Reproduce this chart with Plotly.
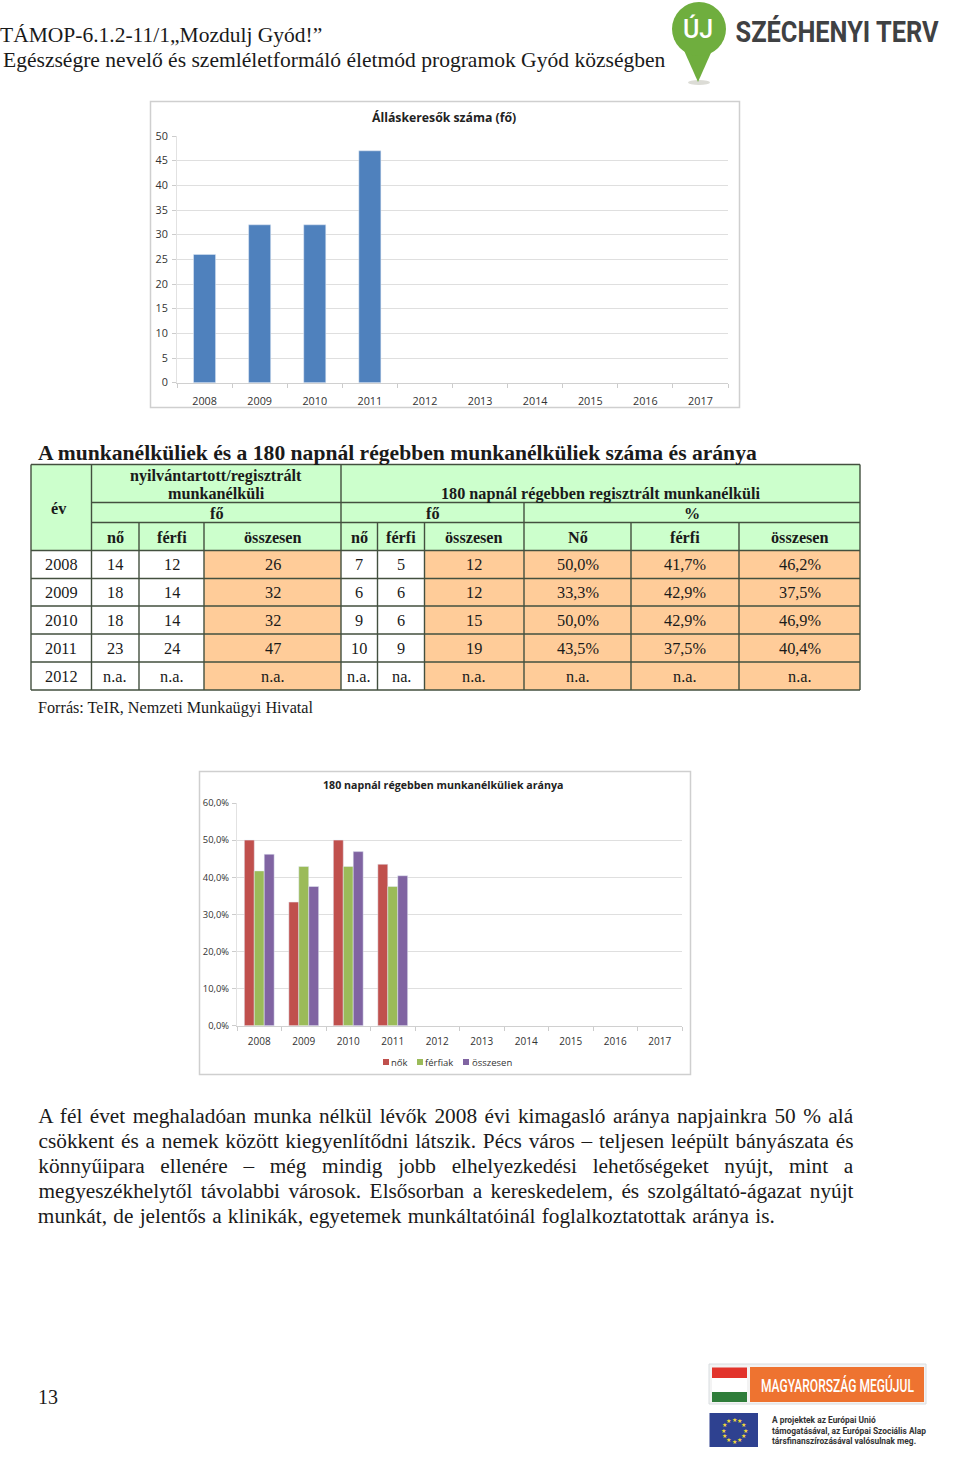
import json
import math
import plotly.graph_objects as go

W, H = 960, 1458
years = ["2008","2009","2010","2011","2012","2013","2014","2015","2016","2017"]
jobseekers = [26, 32, 32, 47, None, None, None, None, None, None]
women_pct = [50.0, 33.3, 50.0, 43.5, None, None, None, None, None, None]
men_pct = [41.7, 42.9, 42.9, 37.5, None, None, None, None, None, None]
total_pct = [46.2, 37.5, 46.9, 40.4, None, None, None, None, None, None]

table_rows = [
    ["2008","14","12","26","7","5","12","50,0%","41,7%","46,2%"],
    ["2009","18","14","32","6","6","12","33,3%","42,9%","37,5%"],
    ["2010","18","14","32","9","6","15","50,0%","42,9%","46,9%"],
    ["2011","23","24","47","10","9","19","43,5%","37,5%","40,4%"],
    ["2012","n.a.","n.a.","n.a.","n.a.","na.","n.a.","n.a.","n.a.","n.a."],
]
sub_headers = ["nő","férfi","összesen","nő","férfi","összesen","Nő","férfi","összesen"]
col_edges = [31, 91.5, 139, 204, 341, 377.5, 424.5, 524, 631, 739, 860]
row_edges = [550.5, 578.5, 606, 634, 662, 690]
orange_cols = {3, 6, 7, 8, 9}

paragraph = [
    "A fél évet meghaladóan munka nélkül lévők 2008 évi kimagasló aránya napjainkra 50 % alá",
    "csökkent és a nemek között kiegyenlítődni látszik. Pécs város – teljesen leépült bányászata és",
    "könnyűipara ellenére – még mindig jobb elhelyezkedési lehetőségeket nyújt, mint a",
    "megyeszékhelytől távolabbi városok. Elsősorban a kereskedelem, és szolgáltató-ágazat nyújt",
    "munkát, de jelentős a klinikák, egyetemek munkáltatóinál foglalkoztatottak aránya is.",
]
paragraph_widths = [815, 815, 815, 815, 737]
squeezed_texts = {"SZÉCHENYI TERV": 203, "MAGYARORSZÁG MEGÚJUL": 153}

SERIF = "Liberation Serif"
SANS = "Open Sans"
GREEN, ORANGE, BORDER = "#CCFFCC", "#FFCC99", "#43503f"
INK = "#1a1a1a"

def xp(x): return x / W
def yp(y): return 1 - y / H

annots, shapes = [], []

def txt(x, y, s, size, font=SERIF, bold=False, color=INK, anchor="center", weight=None):
    f = dict(family=font, size=size, color=color)
    if weight:
        f["weight"] = weight
    annots.append(dict(
        xref="paper", yref="paper", x=xp(x), y=yp(y), text=f"<b>{s}</b>" if bold else s,
        showarrow=False, xanchor=anchor, yanchor="middle", font=f, borderpad=0, borderwidth=0,
    ))

def rect(x0, y0, x1, y1, fill="rgba(0,0,0,0)", line=None, lw=1, kind="rect", layer="above"):
    shapes.append(dict(
        type=kind, xref="paper", yref="paper", x0=xp(x0), x1=xp(x1), y0=yp(y1), y1=yp(y0),
        fillcolor=fill, line=dict(color=line or "rgba(0,0,0,0)", width=lw if line else 0), layer=layer,
    ))

# header
txt(0, 35, "TÁMOP-6.1.2-11/1„Mozdulj Gyód!”", 21.5, anchor="left")
txt(3, 60, "Egészségre nevelő és szemléletformáló életmód programok Gyód községben", 21.55, anchor="left")

# Széchenyi logo
shapes.append(dict(type="path", xref="paper", yref="paper",
    path=f"M {xp(682)} {yp(46)} L {xp(698)} {yp(82)} L {xp(714)} {yp(46)} Z",
    fillcolor="#6fae3e", line=dict(width=0)))
rect(672, 2, 726, 56, fill="#6fae3e", kind="circle")
rect(688, 80, 710, 85, fill="#dcdcd6", kind="circle", layer="below")
txt(698, 29, "ÚJ", 25, font="Roboto", color="#ffffff", weight=500)
txt(836.5, 32, "SZÉCHENYI TERV", 29, font="Roboto", color="#3f4143", weight=700)

# chart frames
rect(150.5, 101.5, 739.5, 407.5, line="#cfcfcf", lw=1.5, layer="below")
rect(199.5, 771.5, 690.5, 1074.5, line="#cfcfcf", lw=1.5, layer="below")
txt(444, 117, "Álláskeresők száma (fő)", 12.25, font=SANS, bold=True, color="#222222")
txt(443, 785, "180 napnál régebben munkanélküliek aránya", 10.65, font=SANS, bold=True, color="#222222")

# legend of chart 2
for sx, tx, label, colour in [(383, 391, "nők", "#C0504D"), (417, 425, "férfiak", "#9BBB59"), (463, 472, "összesen", "#8064A2")]:
    rect(sx, 1059, sx + 6, 1065, fill=colour)
    txt(tx, 1062, label, 9.5, font=SANS, color="#333333", anchor="left")

# table
txt(38, 453, "A munkanélküliek és a 180 napnál régebben munkanélküliek száma és aránya", 21.6, bold=True, anchor="left")
L, R = col_edges[0], col_edges[-1]
rect(L, 464.5, R, 550.5, fill=GREEN)
for r, (y0, y1) in enumerate(zip(row_edges[:-1], row_edges[1:])):
    for c, (x0, x1) in enumerate(zip(col_edges[:-1], col_edges[1:])):
        rect(x0, y0, x1, y1, fill=ORANGE if c in orange_cols else "#ffffff")
        txt((x0 + x1) / 2, (y0 + y1) / 2, table_rows[r][c], 16.3)
for x in col_edges:
    top = 464.5 if x in (31, 91.5, 341, 860) else (502.5 if x in (524,) else 522.5)
    rect(x, top, x, 690, line=BORDER, lw=1.4)
for y in [464.5, 550.5] + row_edges[1:]:
    rect(L, y, R, y, line=BORDER, lw=1.4)
for y in (502.5, 522.5):
    rect(91.5, y, R, y, line=BORDER, lw=1.4)
HS = 16.2
txt(59, 509, "év", HS, bold=True)
txt(216, 476, "nyilvántartott/regisztrált", HS, bold=True)
txt(216, 494, "munkanélküli", HS, bold=True)
txt(600, 494, "180 napnál régebben regisztrált munkanélküli", HS, bold=True)
txt(216, 514, "fő", HS, bold=True)
txt(432, 514, "fő", HS, bold=True)
txt(692, 514, "%", HS, bold=True)
for i, s in enumerate(sub_headers):
    txt((col_edges[i + 1] + col_edges[i + 2]) / 2, 537.5, s, HS, bold=True)
txt(38, 708, "Forrás: TeIR, Nemzeti Munkaügyi Hivatal", 16.2, anchor="left")

# paragraph (centred; the post script widens word gaps to justify)
for i, line in enumerate(paragraph):
    txt(38 + paragraph_widths[i] / 2, 1116 + 25 * i, line, 21.3)

txt(38, 1397, "13", 20, anchor="left")

# bottom logos
rect(709, 1364, 926, 1404, fill="#f3f3f3", line="#d8dde0", lw=1)
rect(712, 1367.5, 747, 1378, fill="#e2332b")
rect(712, 1378, 747, 1392, fill="#ffffff")
rect(712, 1392, 747, 1402, fill="#2f7d3a")
rect(750, 1367, 924, 1402, fill="#ee7330")
txt(837.5, 1385, "MAGYARORSZÁG MEGÚJUL", 18, font="Roboto", color="#ffffff", weight=500)
rect(709.5, 1413, 758, 1447, fill="#2e4190")
for k in range(12):
    a = math.radians(30 * k)
    txt(734 + 11 * math.cos(a), 1430 + 11 * math.sin(a), "★", 6, font="DejaVu Sans", color="#f3d93a")
txt(772, 1420, "A projektek az Európai Unió", 8.4, font="Roboto", bold=True, color="#333333", anchor="left")
txt(772, 1430.5, "támogatásával, az Európai Szociális Alap", 8.4, font="Roboto", bold=True, color="#333333", anchor="left")
txt(772, 1441, "társfinanszírozásával valósulnak meg.", 8.4, font="Roboto", bold=True, color="#333333", anchor="left")

fig = go.Figure()
fig.add_bar(x=years, y=jobseekers, name="Álláskeresők", marker_color="#4F81BD", width=0.4, xaxis="x", yaxis="y", showlegend=False)
for name, vals, colour in [("nők", women_pct, "#C0504D"), ("férfiak", men_pct, "#9BBB59"), ("összesen", total_pct, "#8064A2")]:
    fig.add_bar(x=years, y=vals, name=name, marker_color=colour, xaxis="x2", yaxis="y2", showlegend=False)

def tick(size): return dict(family=SANS, size=size, color="#333333")
def xaxis(d0, d1, anchor, size, standoff):
    return dict(domain=[xp(d0), xp(d1)], type="category", anchor=anchor, tickson="boundaries",
                ticks="outside", ticklen=4, tickcolor="#cccccc", showline=True, linecolor="#d0d0d0",
                linewidth=1, showgrid=False, tickfont=tick(size), ticklabelstandoff=standoff, fixedrange=True)
def yaxis(top, bot, anchor, size, standoff, **kw):
    return dict(domain=[yp(bot), yp(top)], anchor=anchor, ticks="outside", ticklen=4, tickcolor="#cccccc",
                showline=True, linecolor="#e2e2e2", linewidth=1, showgrid=True, gridcolor="#dfdfdf",
                gridwidth=1.2, zeroline=False, tickfont=tick(size), ticklabelstandoff=standoff, fixedrange=True, **kw)

fig.update_layout(
    width=W, height=H, margin=dict(l=0, r=0, t=0, b=0, pad=0, autoexpand=False), autosize=False,
    paper_bgcolor="#ffffff", plot_bgcolor="#ffffff", barmode="group", bargap=0.33, bargroupgap=0,
    showlegend=False, shapes=shapes, annotations=annots,
    xaxis=xaxis(177, 728, "y", 10.8, 8),
    yaxis=yaxis(136, 382.7, "x", 10.8, 2, range=[0, 50], dtick=5),
    xaxis2=xaxis(237, 682, "y2", 10, 6),
    yaxis2=yaxis(803, 1025.7, "x2", 9.4, 1, range=[0, 60], dtick=10, ticksuffix=",0%"),
)

post = """
document.body.style.margin = '0';
var lines = %s, widths = %s, squeezed = %s;
document.querySelectorAll('.annotation-text').forEach(function (t) {
  var s = t.getAttribute('data-unformatted');
  if (squeezed[s]) {
    t.setAttribute('textLength', squeezed[s]);
    t.setAttribute('lengthAdjust', 'spacingAndGlyphs');
    return;
  }
  var i = lines.indexOf(s);
  if (i < 0) return;
  var gaps = lines[i].split(' ').length - 1;
  t.style.wordSpacing = ((widths[i] - t.getComputedTextLength()) / gaps) + 'px';
});
""" % (json.dumps(paragraph, ensure_ascii=False), json.dumps(paragraph_widths), json.dumps(squeezed_texts, ensure_ascii=False))
fig.write_html("out.html", post_script=post, config={"displayModeBar": False})
